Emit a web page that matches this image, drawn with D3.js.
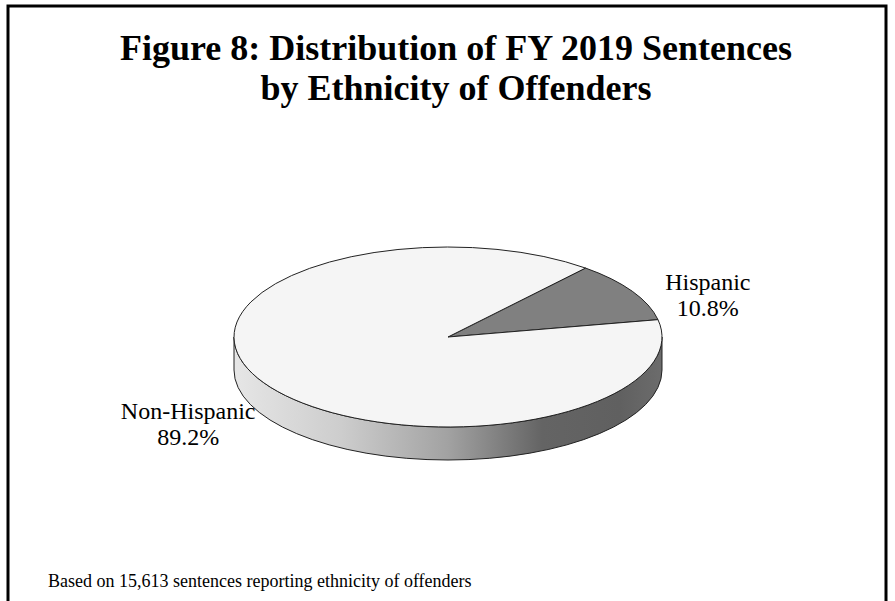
<!DOCTYPE html>
<html>
<head>
<meta charset="utf-8">
<script src="https://cdn.jsdelivr.net/npm/d3@7"></script>
<style>
  html, body { margin: 0; padding: 0; background: #fff; }
  svg { display: block; }
  text { font-family: "Liberation Serif", "Times New Roman", serif; fill: #000; }
</style>
</head>
<body>
<svg id="chart" width="895" height="601"></svg>
<script>
// Sentences by ethnicity of offender, FY 2019 (percent)
const categories = ["Hispanic", "Non-Hispanic"];
const shares = [10.8, 89.2];
const valueLabels = ["10.8%", "89.2%"];
const topColors = ["#808080", "#f5f5f5"];

const titleLines = ["Figure 8: Distribution of FY 2019 Sentences", "by Ethnicity of Offenders"];
const footnote = "Based on 15,613 sentences reporting ethnicity of offenders";

const W = 895, H = 601;
const svg = d3.select("#chart");

// outer frame (runs off the bottom edge)
svg.append("rect")
  .attr("x", 8).attr("y", 6).attr("width", 878).attr("height", 640)
  .attr("fill", "none").attr("stroke", "#000").attr("stroke-width", 3);

// title
svg.append("text")
  .attr("text-anchor", "middle")
  .attr("font-size", 36).attr("font-weight", "bold")
  .selectAll("tspan").data(titleLines).join("tspan")
  .attr("x", 456).attr("y", (d, i) => 60 + i * 40)
  .text(d => d);

// footnote
svg.append("text")
  .attr("x", 48).attr("y", 587)
  .attr("font-size", 18)
  .text(footnote);

// 3-D pie geometry: tilted disc drawn as an ellipse with a side wall
const cx = 448, cy = 337, rx = 214, ry = 90, depth = 33;
const TAU = Math.PI * 2;
const deg = Math.PI / 180;

const pie = d3.pie().sort(null).value(d => d)
  .startAngle(40 * deg).endAngle(40 * deg + TAU);
const arcs = pie(shares);

// point on the top ellipse for a d3-style angle (0 = 12 o'clock, clockwise)
const pt = (a, dy = 0) => [cx + rx * Math.sin(a), cy - ry * Math.cos(a) + dy];

function topPath(a0, a1) {
  const p0 = pt(a0), p1 = pt(a1);
  const large = (a1 - a0) > Math.PI ? 1 : 0;
  return `M${cx},${cy}L${p0[0]},${p0[1]}A${rx},${ry} 0 ${large} 1 ${p1[0]},${p1[1]}Z`;
}

function sidePath(a0, a1) {
  const p0 = pt(a0), p1 = pt(a1), q0 = pt(a0, depth), q1 = pt(a1, depth);
  const large = (a1 - a0) > Math.PI ? 1 : 0;
  return `M${p0[0]},${p0[1]}A${rx},${ry} 0 ${large} 1 ${p1[0]},${p1[1]}` +
         `L${q1[0]},${q1[1]}A${rx},${ry} 0 ${large} 0 ${q0[0]},${q0[1]}Z`;
}

// visible front part of each slice wall: angles between 90° and 270° (mod 360°)
function frontRanges(a0, a1) {
  const out = [];
  for (let k = -1; k <= 1; k++) {
    const lo = Math.max(a0, Math.PI / 2 + k * TAU);
    const hi = Math.min(a1, 3 * Math.PI / 2 + k * TAU);
    if (hi > lo) out.push([lo, hi]);
  }
  return out;
}

// horizontal shading of the side wall
const defs = svg.append("defs");
const grad = defs.append("linearGradient")
  .attr("id", "wall").attr("gradientUnits", "userSpaceOnUse")
  .attr("x1", cx - rx).attr("y1", 0).attr("x2", cx + rx).attr("y2", 0);
[[0, "#e6e6e6"], [0.25, "#cdcdcd"], [0.5, "#a2a2a2"], [0.72, "#646464"], [0.9, "#606060"], [1, "#6c6c6c"]]
  .forEach(([o, c]) => grad.append("stop").attr("offset", o).attr("stop-color", c));

const g = svg.append("g");

arcs.forEach(a => {
  frontRanges(a.startAngle, a.endAngle).forEach(([lo, hi]) => {
    g.append("path")
      .attr("d", sidePath(lo, hi))
      .attr("fill", "url(#wall)")
      .attr("stroke", "#222").attr("stroke-width", 1)
      .attr("stroke-linejoin", "round");
  });
});

g.selectAll("path.top").data(arcs).join("path")
  .attr("class", "top")
  .attr("d", d => topPath(d.startAngle, d.endAngle))
  .attr("fill", (d, i) => topColors[i])
  .attr("stroke", "#222").attr("stroke-width", 1)
  .attr("stroke-linejoin", "round");

// slice labels placed outside the disc along each slice's mid-angle
const k = 1.41;
const labels = svg.append("g").attr("font-size", 24).attr("text-anchor", "middle");
arcs.forEach((a, i) => {
  const mid = (a.startAngle + a.endAngle) / 2;
  const x = cx + k * rx * Math.sin(mid);
  const y = cy - k * ry * Math.cos(mid) + depth * 0.66;
  const t = labels.append("text");
  t.append("tspan").attr("x", x).attr("y", y - 4).text(categories[i]);
  t.append("tspan").attr("x", x).attr("y", y + 22).text(valueLabels[i]);
});
</script>
</body>
</html>
